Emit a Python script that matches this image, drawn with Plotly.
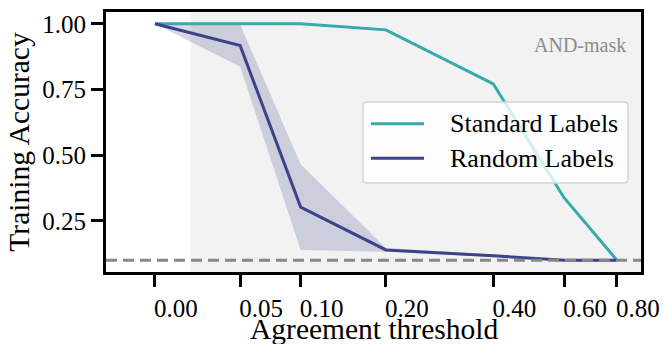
import plotly.graph_objects as go

# ---------------- data ----------------
THRESHOLDS = [0.0, 0.05, 0.10, 0.20, 0.40, 0.60, 0.80]
TICK_LABELS = ["0.00", "0.05", "0.10", "0.20", "0.40", "0.60", "0.80"]
STANDARD = [1.0, 1.0, 1.0, 0.977, 0.771, 0.338, 0.100]
STANDARD_LO = [1.0, 1.0, 0.999, 0.972, 0.765, 0.332, 0.099]
STANDARD_HI = [1.0, 1.0, 1.0, 0.982, 0.777, 0.344, 0.101]
RANDOM = [1.0, 0.917, 0.302, 0.139, 0.117, 0.100, 0.100]
RANDOM_LO = [1.0, 0.837, 0.139, 0.132, 0.112, 0.098, 0.098]
RANDOM_HI = [1.0, 0.997, 0.465, 0.146, 0.122, 0.102, 0.102]
Y_TICKS = [0.25, 0.50, 0.75, 1.00]
Y_TICK_LABELS = ["0.25", "0.50", "0.75", "1.00"]
CHANCE = 0.1
SERIES_NAMES = ["Standard Labels", "Random Labels"]
PANEL_LABEL = "AND-mask"
X_TITLE = "Agreement threshold"
Y_TITLE = "Training Accuracy"

OFFSET = 0.1  # symmetric-log style offset of the threshold axis
xs = [t + OFFSET for t in THRESHOLDS]

TEAL = "#36aba9"
NAVY = "#3c4389"
FONT = "Liberation Serif"

fig = go.Figure()

# bands
fig.add_trace(go.Scatter(x=xs, y=STANDARD_HI, mode="lines", line=dict(width=0),
                         showlegend=False, hoverinfo="skip"))
fig.add_trace(go.Scatter(x=xs, y=STANDARD_LO, mode="lines", line=dict(width=0),
                         fill="tonexty", fillcolor="rgba(54,171,169,0.2)",
                         showlegend=False, hoverinfo="skip"))
fig.add_trace(go.Scatter(x=xs, y=RANDOM_HI, mode="lines", line=dict(width=0),
                         showlegend=False, hoverinfo="skip"))
fig.add_trace(go.Scatter(x=xs, y=RANDOM_LO, mode="lines", line=dict(width=0),
                         fill="tonexty", fillcolor="rgba(60,67,137,0.2)",
                         showlegend=False, hoverinfo="skip"))
# lines
fig.add_trace(go.Scatter(x=xs, y=STANDARD, mode="lines", name=SERIES_NAMES[0],
                         line=dict(color=TEAL, width=3), showlegend=False))
fig.add_trace(go.Scatter(x=xs, y=RANDOM, mode="lines", name=SERIES_NAMES[1],
                         line=dict(color=NAVY, width=3), showlegend=False))

# chance line
fig.add_hline(y=CHANCE, line=dict(color="#888888", width=3, dash="11px,6px"), layer="above")

# shaded region
fig.add_shape(type="rect", xref="x domain", yref="y domain", x0=0.158, x1=1, y0=0, y1=1,
              fillcolor="#f2f2f2", line=dict(width=0), layer="below")

# panel label
fig.add_annotation(text=PANEL_LABEL, xref="x domain", yref="y domain", x=0.975, y=0.875,
                   xanchor="right", yanchor="middle", showarrow=False,
                   font=dict(family=FONT, size=20, color="#8c8c8c"))

# x-axis title
fig.add_annotation(text=X_TITLE, xref="x domain", yref="paper", x=0.501, y=-0.22,
                   xanchor="center", yanchor="middle", showarrow=False,
                   font=dict(family=FONT, size=29.5, color="black"))

# manual legend (box + samples + labels)
L, R, T, B = 0.4804, 0.9757, 0.6538, 0.3423
rx, ry = 0.0075, 0.0154
path = (f"M{L+rx},{T} L{R-rx},{T} Q{R},{T} {R},{T-ry} L{R},{B+ry} Q{R},{B} {R-rx},{B} "
        f"L{L+rx},{B} Q{L},{B} {L},{B+ry} L{L},{T-ry} Q{L},{T} {L+rx},{T} Z")
fig.add_shape(type="path", path=path, xref="x domain", yref="y domain",
              fillcolor="rgba(255,255,255,0.8)", line=dict(color="#d4d4d4", width=1.5),
              layer="above")
for name, color, yy in [(SERIES_NAMES[0], TEAL, 0.5704), (SERIES_NAMES[1], NAVY, 0.4373)]:
    fig.add_shape(type="line", xref="x domain", yref="y domain", x0=0.4953, x1=0.5944,
                  y0=yy, y1=yy, line=dict(color=color, width=3), layer="above")
    fig.add_annotation(text=name, xref="x domain", yref="y domain", x=0.6393, y=yy,
                       xanchor="left", yanchor="middle", showarrow=False,
                       font=dict(family=FONT, size=26, color="black"))

fig.update_layout(
    width=664, height=344,
    margin=dict(l=106, r=23, t=12, b=72, autoexpand=False),
    plot_bgcolor="white", paper_bgcolor="white",
    font=dict(family=FONT, size=25, color="black"),
    showlegend=False,
)
fig.update_xaxes(type="log", range=[-1.101, 0.004], automargin=False,
                 tickvals=xs, ticktext=TICK_LABELS, ticklabelshift=21,
                 showgrid=False, zeroline=False,
                 showline=True, linecolor="black", linewidth=3, mirror=True,
                 ticks="outside", ticklen=12, tickwidth=2.5, tickcolor="black",
                 tickfont=dict(family=FONT, size=25, color="black"))
fig.update_yaxes(range=[0.055, 1.045], automargin=False,
                 tickvals=Y_TICKS, ticktext=Y_TICK_LABELS,
                 showgrid=False, zeroline=False,
                 showline=True, linecolor="black", linewidth=3, mirror=True,
                 ticks="outside", ticklen=12, tickwidth=2.5, tickcolor="black",
                 tickfont=dict(family=FONT, size=25, color="black"),
                 title=dict(text=Y_TITLE,
                            font=dict(family=FONT, size=29.5, color="black"), standoff=4))

fig.write_html("out.html")
